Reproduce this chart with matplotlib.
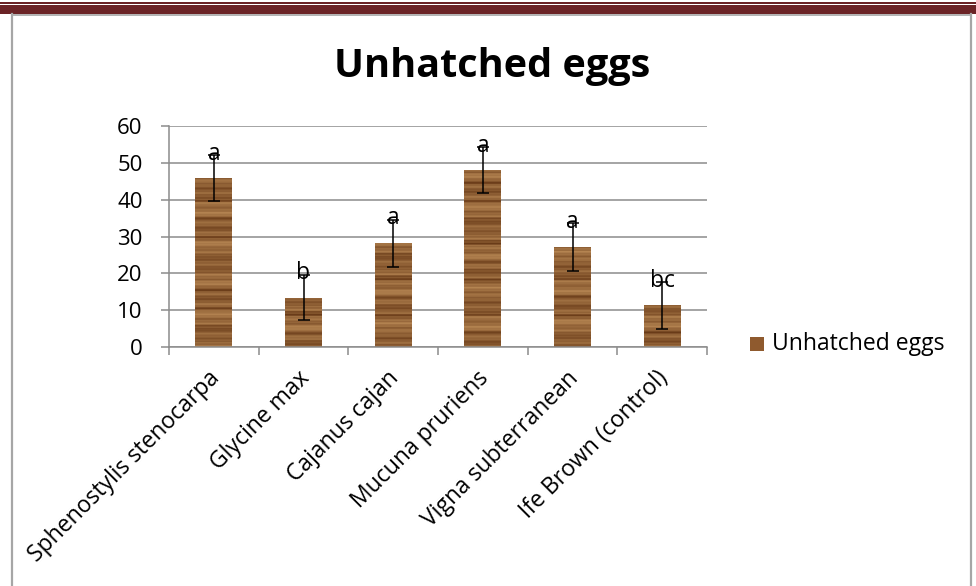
import numpy as np
import matplotlib.pyplot as plt
import matplotlib.transforms as mtransforms
from matplotlib.patches import Rectangle
from matplotlib.lines import Line2D

# dados
categorias = ['Sphenostylis stenocarpa', 'Glycine max', 'Cajanus cajan',
              'Mucuna pruriens', 'Vigna subterranean', 'Ife Brown (control)']
medias = [45.8, 13.4, 28.1, 48.0, 27.1, 11.3]
erros = [6.2, 6.2, 6.5, 6.3, 6.5, 6.3]
letras = ['a', 'b', 'a', 'a', 'a', 'bc']
yticks = [0, 10, 20, 30, 40, 50, 60]

plt.rcParams['font.family'] = ['Open Sans', 'DejaVu Sans']
fs = 16.5

W, H = 976, 586
fig = plt.figure(figsize=(W / 100, H / 100), dpi=100)

# moldura da pagina (faixa vermelho escuro + borda cinza)
vinho = '#6b2326'
fig.add_artist(Rectangle((0, 1 - 3.5 / H), 1, 1.5 / H, transform=fig.transFigure,
                         color=vinho, lw=0))
fig.add_artist(Rectangle((0, 1 - 14 / H), 1, 8.5 / H, transform=fig.transFigure,
                         color=vinho, lw=0))
cinza_borda = '#a6a6a6'
fig.add_artist(Line2D([12 / W, 12 / W], [0, 1 - 14 / H], transform=fig.transFigure,
                      color=cinza_borda, lw=1.6))
fig.add_artist(Line2D([12 / W, 971 / W], [1 - 14.5 / H, 1 - 14.5 / H],
                      transform=fig.transFigure, color=cinza_borda, lw=1.2))
fig.add_artist(Line2D([971 / W, 971 / W], [0, 1 - 14 / H], transform=fig.transFigure,
                      color=cinza_borda, lw=1.6))

ax = fig.add_axes([169 / W, 1 - 347 / H, (707 - 169) / W, (347 - 126) / H])

x = np.arange(len(categorias))
barras = ax.bar(x, medias, width=0.41, color='#9a6535', zorder=2)

# textura de madeira (listras horizontais) recortada em cada barra
linhas = np.arange(600)
v = (0.55 + 0.15 * np.sin(linhas * 0.23) + 0.1 * np.sin(linhas * 0.71 + 1.0)
     + 0.12 * np.sin(linhas * 0.067 + 2.0) - 0.3 * (np.sin(linhas * 0.13 + 0.5) > 0.95)
     - 0.2 * (np.sin(linhas * 0.41 + 2.2) > 0.97))
v = np.clip(v, 0, 1)
claro = np.array([0.76, 0.57, 0.36])
escuro = np.array([0.38, 0.20, 0.07])
textura = (escuro[None, :] + (claro - escuro)[None, :] * v[:, None])[:, None, :]
for i, b in enumerate(barras):
    im = ax.imshow(np.roll(textura, i * 97, axis=0), extent=(-0.5, 5.5, 0, 60),
                   aspect='auto', origin='lower', zorder=2.5, interpolation='bilinear')
    im.set_clip_path(b)

ax.errorbar(x, medias, yerr=erros, fmt='none', ecolor='black', elinewidth=1.1,
            capsize=4.5, capthick=1.1, zorder=3)

for xi, m, e, l in zip(x, medias, erros, letras):
    ax.text(xi, m + e + 0.4, l, ha='center', va='center', fontsize=fs, zorder=4)

ax.set_xlim(-0.5, 5.5)
ax.set_ylim(0, 60)
ax.set_yticks(yticks)
ax.set_yticklabels([str(t) for t in yticks], fontsize=16)
ax.yaxis.grid(True, color='#8c8c8c', lw=1.1)
ax.set_axisbelow(True)
ax.tick_params(axis='y', length=6, width=1.1, color='#8c8c8c', pad=13)

ax.set_xticks(np.arange(-0.5, 6, 1))
ax.set_xticklabels([])
ax.tick_params(axis='x', which='major', length=6, width=1.1, color='#8c8c8c',
               direction='out')
ax.set_xticks(x, minor=True)
ax.set_xticklabels(categorias, minor=True, rotation=45, ha='right',
                   rotation_mode='anchor', fontsize=fs)
ax.tick_params(axis='x', which='minor', length=0, pad=14)
desloc = mtransforms.ScaledTranslation(-6 / 100, 0, fig.dpi_scale_trans)
for lab in ax.get_xticklabels(minor=True):
    lab.set_transform(lab.get_transform() + desloc)

for s in ['top', 'right']:
    ax.spines[s].set_visible(False)
for s in ['left', 'bottom']:
    ax.spines[s].set_color('#8c8c8c')
    ax.spines[s].set_linewidth(1.1)

fig.text(492 / W, 1 - 67 / H, 'Unhatched eggs', ha='center', va='center',
         fontsize=28.5, fontweight='bold')

# legenda
fig.add_artist(Rectangle((750 / W, 1 - 351 / H), 14 / W, 14 / H,
                         transform=fig.transFigure, color='#8f5a2e', lw=0))
fig.text(772 / W, 1 - 344 / H, 'Unhatched eggs', ha='left', va='center', fontsize=fs)

fig.savefig('out.png', dpi=100)
